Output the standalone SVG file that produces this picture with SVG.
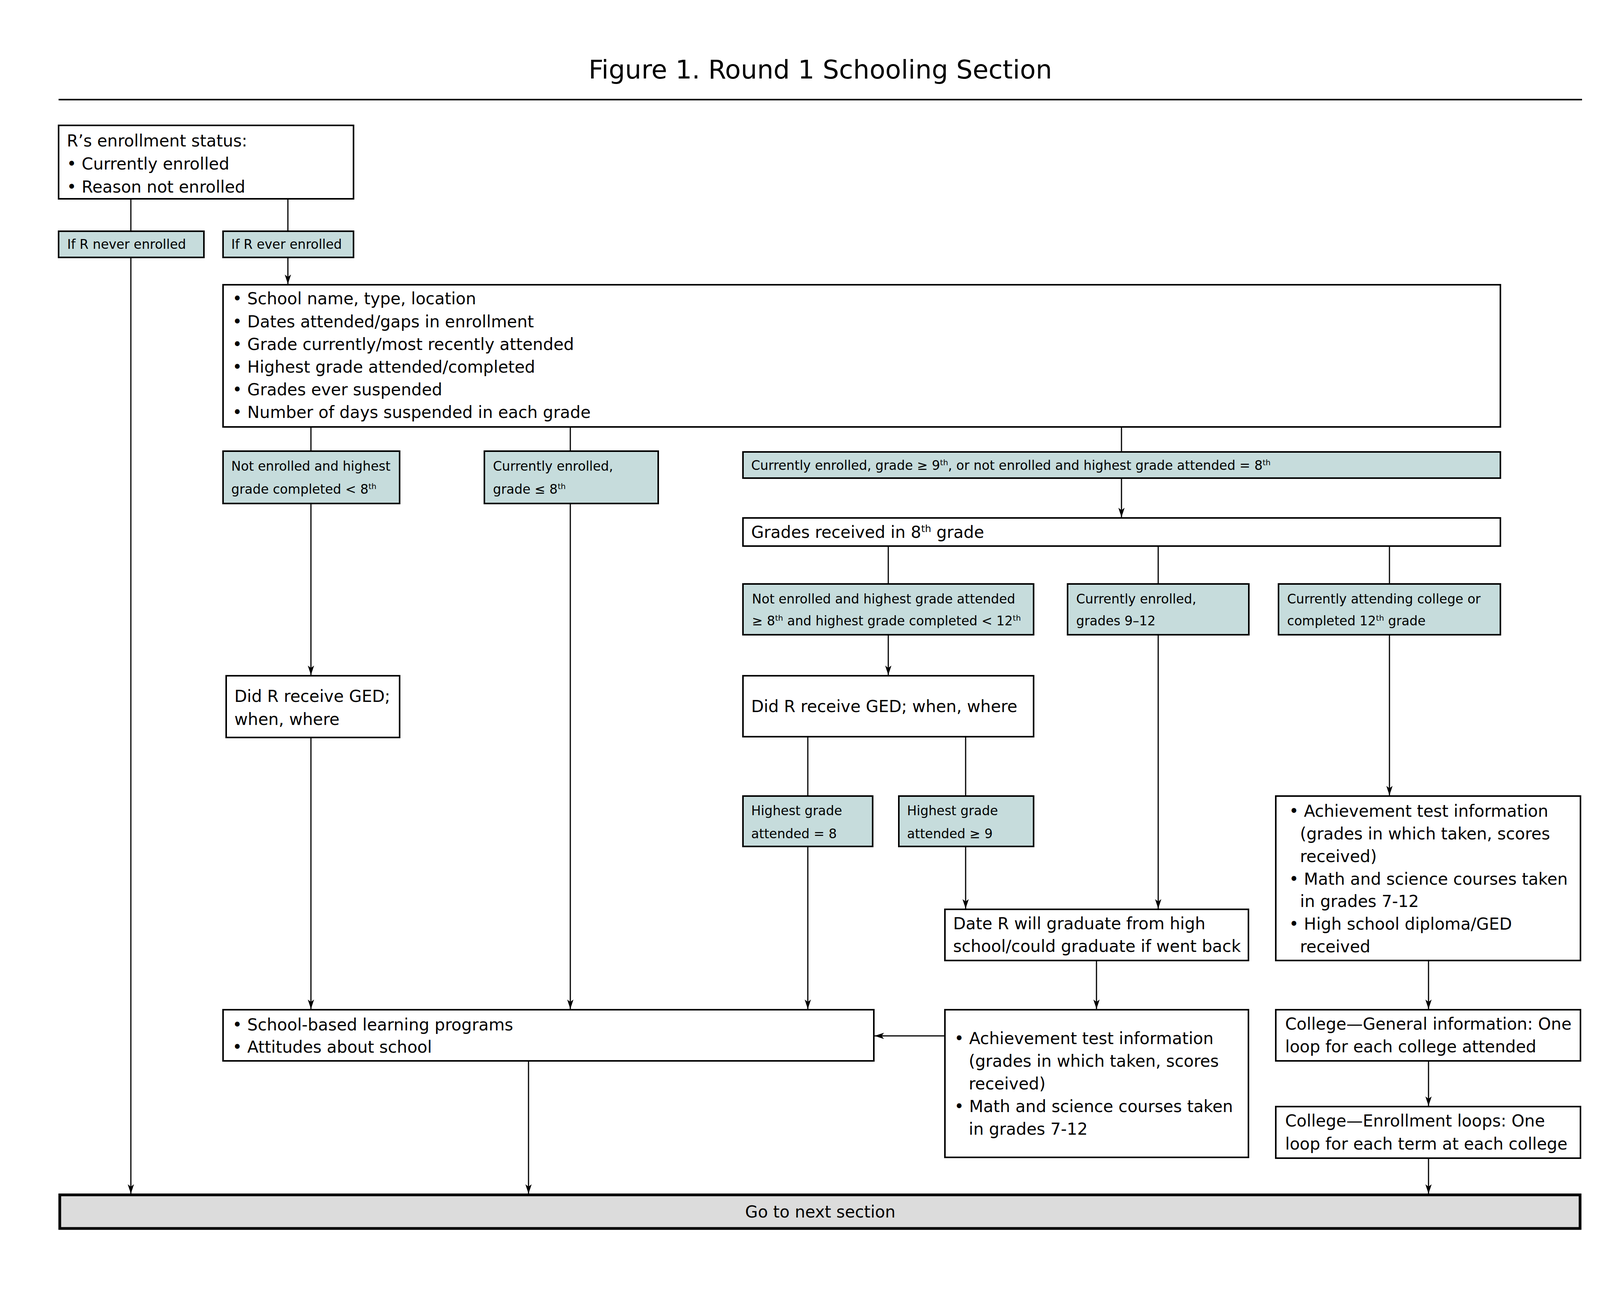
<svg xmlns="http://www.w3.org/2000/svg" width="4200" height="3300" viewBox="0 0 4200 3300">
<style>
text{font-family:"DejaVu Sans",Verdana,"Liberation Sans",sans-serif;fill:#000}
.t{font-size:42px}
.s{font-size:33px}
.box{fill:#fff;stroke:#000;stroke-width:4}
.cond{fill:#c6dcdc;stroke:#000;stroke-width:4}
.go{fill:#dcdcdc;stroke:#000;stroke-width:7}
.c{stroke:#000;stroke-width:3;fill:none}
.a{marker-end:url(#arr)}
</style>
<defs>
<marker id="arr" markerUnits="userSpaceOnUse" markerWidth="24" markerHeight="16" refX="24" refY="8" orient="auto">
<path d="M0,0 L24,8 L0,16 L6,8 z" fill="#000"/>
</marker>
</defs>
<rect width="4200" height="3300" fill="#fff"/>
<g id="title">
<text x="2100" y="201" font-size="66" text-anchor="middle">Figure 1. Round 1 Schooling Section</text>
<line x1="150" y1="255" x2="4050" y2="255" stroke="#000" stroke-width="4"/>
</g>
<g id="connectors">
<path class="c" d="M335,509 V592"/>
<path class="c" d="M737,509 V592"/>
<path class="c a" d="M737,659 V727"/>
<path class="c a" d="M335,659 V3056"/>
<path class="c" d="M796,1093 V1155"/>
<path class="c" d="M1460,1093 V1155"/>
<path class="c" d="M2871,1093 V1157"/>
<path class="c a" d="M2871,1224 V1324"/>
<path class="c" d="M2274,1398 V1495"/>
<path class="c" d="M2965,1398 V1495"/>
<path class="c" d="M3557,1398 V1495"/>
<path class="c a" d="M796,1289 V1728"/>
<path class="c a" d="M796,1888 V2583"/>
<path class="c a" d="M1460,1289 V2583"/>
<path class="c a" d="M2274,1625 V1728"/>
<path class="c" d="M2068,1886 V2038"/>
<path class="c" d="M2472,1886 V2038"/>
<path class="c a" d="M2068,2167 V2583"/>
<path class="c a" d="M2472,2167 V2326"/>
<path class="c a" d="M2965,1625 V2326"/>
<path class="c a" d="M2807,2459 V2583"/>
<path class="c a" d="M2419,2652 H2239"/>
<path class="c a" d="M1353,2716 V3056"/>
<path class="c a" d="M3557,1625 V2036"/>
<path class="c a" d="M3657,2459 V2583"/>
<path class="c a" d="M3657,2716 V2831"/>
<path class="c a" d="M3657,2965 V3056"/>
</g>
<g id="enrollment">
<rect class="box" x="150" y="321" width="755" height="188"/>
<text class="t" x="171" y="375">R’s enrollment status:</text>
<text class="t" x="171" y="434">• Currently enrolled</text>
<text class="t" x="171" y="493">• Reason not enrolled</text>
</g>
<g id="never">
<rect class="cond" x="150" y="592" width="372" height="67"/>
<text class="s" x="172" y="637">If R never enrolled</text>
</g>
<g id="ever">
<rect class="cond" x="571" y="592" width="334" height="67"/>
<text class="s" x="592" y="637">If R ever enrolled</text>
</g>
<g id="school">
<rect class="box" x="571" y="729" width="3270" height="364"/>
<text class="t" x="595" y="779">• School name, type, location</text>
<text class="t" x="595" y="838">• Dates attended/gaps in enrollment</text>
<text class="t" x="595" y="896">• Grade currently/most recently attended</text>
<text class="t" x="595" y="954">• Highest grade attended/completed</text>
<text class="t" x="595" y="1012">• Grades ever suspended</text>
<text class="t" x="595" y="1070">• Number of days suspended in each grade</text>
</g>
<g id="cond1">
<rect class="cond" x="571" y="1155" width="452" height="134"/>
<text class="s" x="592" y="1205">Not enrolled and highest</text>
<text class="s" x="592" y="1264">grade completed &lt; 8<tspan font-size="20" dy="-12">th</tspan></text>
</g>
<g id="cond2">
<rect class="cond" x="1240" y="1155" width="445" height="134"/>
<text class="s" x="1262" y="1205">Currently enrolled,</text>
<text class="s" x="1262" y="1264">grade ≤ 8<tspan font-size="20" dy="-12">th</tspan></text>
</g>
<g id="cond3">
<rect class="cond" x="1902" y="1157" width="1939" height="67"/>
<text class="s" x="1923" y="1203">Currently enrolled, grade ≥ 9<tspan font-size="20" dy="-12">th</tspan><tspan dy="12">, or not enrolled and highest grade attended = 8</tspan><tspan font-size="20" dy="-12">th</tspan></text>
</g>
<g id="grades8">
<rect class="box" x="1902" y="1326" width="1939" height="72"/>
<text class="t" x="1923" y="1377">Grades received in 8<tspan font-size="25" dy="-15">th</tspan><tspan dy="15"> grade</tspan></text>
</g>
<g id="cond4">
<rect class="cond" x="1902" y="1495" width="744" height="130"/>
<text class="s" x="1925" y="1545">Not enrolled and highest grade attended</text>
<text class="s" x="1925" y="1601">≥ 8<tspan font-size="20" dy="-12">th</tspan><tspan dy="12"> and highest grade completed &lt; 12</tspan><tspan font-size="20" dy="-12">th</tspan></text>
</g>
<g id="cond5">
<rect class="cond" x="2733" y="1495" width="464" height="130"/>
<text class="s" x="2755" y="1545">Currently enrolled,</text>
<text class="s" x="2755" y="1601">grades 9–12</text>
</g>
<g id="cond6">
<rect class="cond" x="3273" y="1495" width="568" height="130"/>
<text class="s" x="3295" y="1545">Currently attending college or</text>
<text class="s" x="3295" y="1601">completed 12<tspan font-size="20" dy="-12">th</tspan><tspan dy="12"> grade</tspan></text>
</g>
<g id="gedLeft">
<rect class="box" x="579" y="1730" width="444" height="158"/>
<text class="t" x="600" y="1797">Did R receive GED;</text>
<text class="t" x="600" y="1856">when, where</text>
</g>
<g id="gedRight">
<rect class="box" x="1902" y="1730" width="744" height="156"/>
<text class="t" x="1923" y="1823">Did R receive GED; when, where</text>
</g>
<g id="hg8">
<rect class="cond" x="1902" y="2038" width="332" height="129"/>
<text class="s" x="1923" y="2087">Highest grade</text>
<text class="s" x="1923" y="2146">attended = 8</text>
</g>
<g id="hg9">
<rect class="cond" x="2301" y="2038" width="345" height="129"/>
<text class="s" x="2322" y="2087">Highest grade</text>
<text class="s" x="2322" y="2146">attended ≥ 9</text>
</g>
<g id="dateGrad">
<rect class="box" x="2419" y="2328" width="777" height="131"/>
<text class="t" x="2440" y="2379">Date R will graduate from high</text>
<text class="t" x="2440" y="2437">school/could graduate if went back</text>
</g>
<g id="achRight">
<rect class="box" x="3266" y="2038" width="780" height="421"/>
<text class="t" x="3300" y="2091">• Achievement test information</text>
<text class="t" x="3328" y="2149">(grades in which taken, scores</text>
<text class="t" x="3328" y="2207">received)</text>
<text class="t" x="3300" y="2265">• Math and science courses taken</text>
<text class="t" x="3328" y="2322">in grades 7-12</text>
<text class="t" x="3300" y="2380">• High school diploma/GED</text>
<text class="t" x="3328" y="2438">received</text>
</g>
<g id="programs">
<rect class="box" x="571" y="2585" width="1666" height="131"/>
<text class="t" x="595" y="2638">• School-based learning programs</text>
<text class="t" x="595" y="2695">• Attitudes about school</text>
</g>
<g id="achMid">
<rect class="box" x="2419" y="2585" width="777" height="378"/>
<text class="t" x="2443" y="2673">• Achievement test information</text>
<text class="t" x="2480" y="2731">(grades in which taken, scores</text>
<text class="t" x="2480" y="2789">received)</text>
<text class="t" x="2443" y="2847">• Math and science courses taken</text>
<text class="t" x="2480" y="2905">in grades 7-12</text>
</g>
<g id="collegeGeneral">
<rect class="box" x="3266" y="2585" width="780" height="131"/>
<text class="t" x="3290" y="2636">College—General information: One</text>
<text class="t" x="3290" y="2694">loop for each college attended</text>
</g>
<g id="collegeEnroll">
<rect class="box" x="3266" y="2833" width="780" height="132"/>
<text class="t" x="3290" y="2884">College—Enrollment loops: One</text>
<text class="t" x="3290" y="2943">loop for each term at each college</text>
</g>
<g id="next">
<rect class="go" x="153" y="3059" width="3892" height="86"/>
<text class="t" x="2100" y="3117" text-anchor="middle">Go to next section</text>
</g>
</svg>
